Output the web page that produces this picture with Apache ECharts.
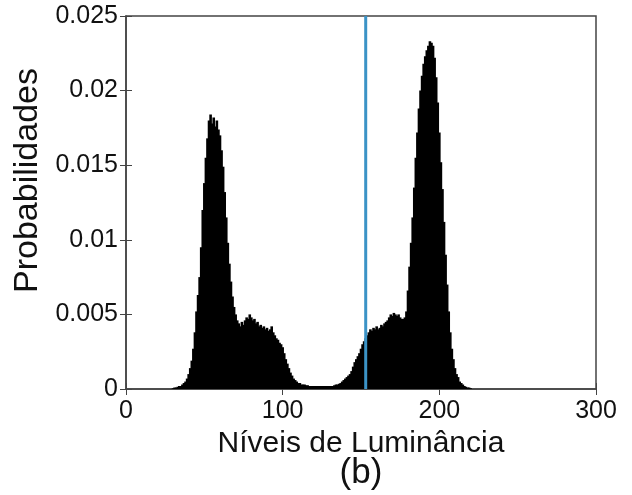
<!DOCTYPE html>
<html>
<head>
<meta charset="utf-8">
<script src="https://cdn.jsdelivr.net/npm/echarts@6/dist/echarts.min.js"></script>
<style>
  html, body { margin: 0; padding: 0; background: #fff; }
  #hist-chart { width: 632px; height: 495px; }
</style>
</head>
<body>
<div id="hist-chart"></div>
<script>
// probability per luminance level 0..255, in units of 1e-4
var prob_e4 = [
  0, 0, 0, 0, 0, 0, 0, 0, 0, 0,
  0, 0, 0, 0, 0, 0, 0, 0, 0, 0,
  0, 0, 0, 0, 0, 0, 0, 0, 0, 0,
  0.5, 1, 1, 1.5, 2, 2, 3, 4, 5, 7,
  10, 14, 19, 27, 38, 52, 63, 75, 95, 120,
  138, 155, 168, 180, 184, 178, 182, 176, 180, 174,
  170, 160, 149, 132, 115, 98, 84, 72, 62, 55,
  50, 46, 44, 42, 45, 43, 46, 48, 47, 50,
  48, 46, 47, 44, 45, 42, 43, 41, 42, 40,
  41, 39, 40, 42, 38, 36, 34, 33, 31, 30,
  28, 24, 20, 17, 14, 11, 9, 7, 6, 5,
  4, 4, 3, 3, 3, 2.5, 2.5, 2, 2, 2,
  2, 2, 2, 2, 2, 2, 2, 2, 2, 2,
  2, 2, 2, 2.5, 3, 3, 3.5, 4, 5, 6,
  7, 8, 9, 10, 12, 15, 18, 20, 22, 24,
  27, 30, 32, 34, 36, 38, 40, 39, 41, 40,
  42, 40, 41, 43, 42, 44, 45, 46, 48, 50,
  49, 51, 50, 49, 50, 48, 47, 47, 48, 52,
  66, 82, 98, 115, 135, 155, 172, 188, 200, 210,
  218, 223, 227, 230, 233, 232, 230, 222, 209, 192,
  172, 152, 134, 112, 90, 70, 52, 38, 27, 20,
  14, 10, 8, 5, 4, 3, 2, 1.5, 1, 1,
  0.5, 0, 0, 0, 0, 0, 0, 0, 0, 0,
  0, 0, 0, 0, 0, 0, 0, 0, 0, 0,
  0, 0, 0, 0, 0, 0, 0, 0, 0, 0,
  0, 0, 0, 0, 0, 0
];
var threshold = 153;          // blue vertical line
var x_ticks = [0, 100, 200, 300];
var y_max = 0.025;

function draw_hist_chart() {
  var chart = echarts.init(document.getElementById('hist-chart'));
  var font = 'Liberation Sans, Arial, Helvetica, sans-serif';
  var axis_color = '#444';

  var bar_data = prob_e4.map(function (d, i) {
    return [i, d / 10000];
  });

  var option = {
    animation: false,
    grid: {
      left: 126,
      right: 36,
      top: 16,
      bottom: 106,
      show: true,
      borderColor: axis_color,
      borderWidth: 1.5
    },
    xAxis: [{
      type: 'value',
      min: x_ticks[0],
      max: x_ticks[x_ticks.length - 1],
      interval: 100,
      splitLine: { show: false },
      axisLine: { show: true, onZero: false, lineStyle: { color: axis_color, width: 1.5 } },
      axisTick: { show: true, inside: true, length: 6, lineStyle: { color: axis_color } },
      axisLabel: { color: '#111', fontSize: 25, fontFamily: font, margin: 10 },
      name: 'Níveis de Luminância',
      nameLocation: 'middle',
      nameGap: 26,
      nameTextStyle: { color: '#111', fontSize: 30, fontFamily: font }
    }, {
      type: 'value',
      position: 'top',
      min: 0,
      max: 300,
      interval: 100,
      splitLine: { show: false },
      axisLine: { show: false },
      axisTick: { show: true, inside: true, length: 6, lineStyle: { color: axis_color } },
      axisLabel: { show: false }
    }],
    yAxis: [{
      type: 'value',
      min: 0,
      max: y_max,
      interval: 0.005,
      splitLine: { show: false },
      axisLine: { show: true, lineStyle: { color: axis_color, width: 1.5 } },
      axisTick: { show: true, inside: true, length: 6, lineStyle: { color: axis_color } },
      axisLabel: { color: '#111', fontSize: 25, fontFamily: font, margin: 8 },
      name: 'Probabilidades',
      nameLocation: 'middle',
      nameGap: 70,
      nameTextStyle: { color: '#111', fontSize: 34, fontFamily: font, padding: [0, 0, 0, 44] }
    }, {
      type: 'value',
      position: 'right',
      min: 0,
      max: y_max,
      interval: 0.005,
      splitLine: { show: false },
      axisLine: { show: false },
      axisTick: { show: true, inside: true, length: 6, lineStyle: { color: axis_color } },
      axisLabel: { show: false }
    }],
    graphic: [{
      type: 'text',
      x: 361,
      y: 473,
      style: {
        text: '(b)',
        fontSize: 35,
        fontFamily: font,
        fill: '#111',
        align: 'center',
        verticalAlign: 'middle',
        textAlign: 'center',
        textVerticalAlign: 'middle'
      }
    }],
    series: [{
      type: 'bar',
      data: bar_data,
      barWidth: 2.6,
      itemStyle: { color: '#000' },
      silent: true
    }, {
      type: 'line',
      data: [[threshold, 0], [threshold, y_max]],
      symbol: 'none',
      lineStyle: { color: '#3b93c6', width: 3 },
      silent: true,
      z: 5
    }]
  };

  chart.setOption(option);
  window.addEventListener("resize", function () {
    chart.resize();
  });
}

draw_hist_chart();
</script>
</body>
</html>
